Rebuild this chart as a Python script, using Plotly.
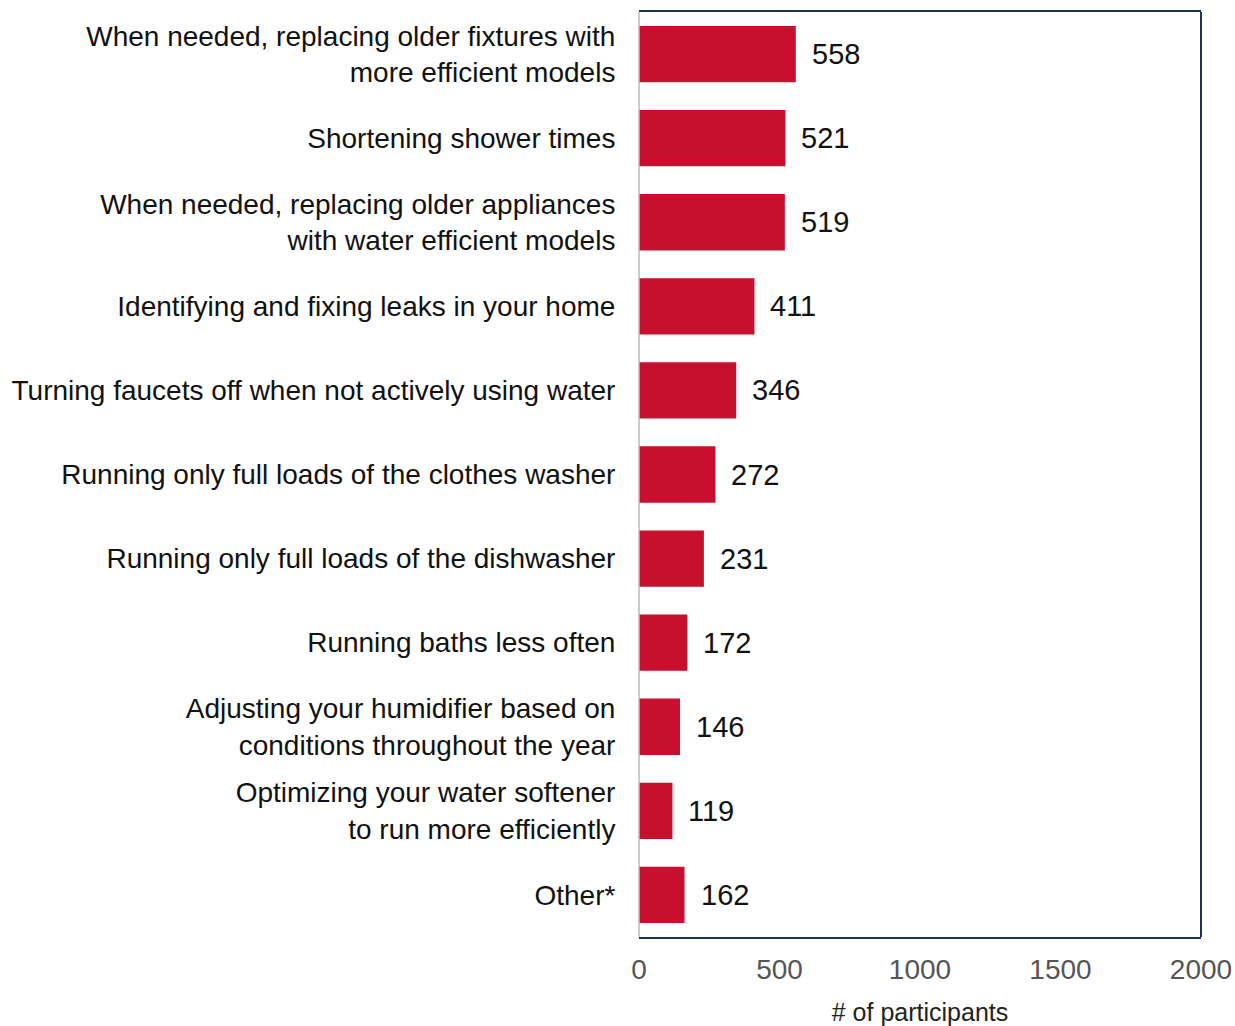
import plotly.graph_objects as go

categories = [
    "When needed, replacing older fixtures with<br>more efficient models",
    "Shortening shower times",
    "When needed, replacing older appliances<br>with water efficient models",
    "Identifying and fixing leaks in your home",
    "Turning faucets off when not actively using water",
    "Running only full loads of the clothes washer",
    "Running only full loads of the dishwasher",
    "Running baths less often",
    "Adjusting your humidifier based on<br>conditions throughout the year",
    "Optimizing your water softener<br>to run more efficiently",
    "Other*",
]
values = [558, 521, 519, 411, 346, 272, 231, 172, 146, 119, 162]
x_ticks = [0, 500, 1000, 1500, 2000]

RED = "#C8102E"
NAVY = "#1F3350"

fig = go.Figure()
fig.add_trace(go.Bar(
    y=categories, x=values, orientation="h",
    marker=dict(color=RED, line=dict(width=0)),
    hoverinfo="skip",
))

for c, v in zip(categories, values):
    fig.add_annotation(
        x=v, y=c, text=str(v), showarrow=False, xanchor="left", xshift=14,
        font=dict(family="Liberation Sans, Arial", size=29, color="#111111"),
    )

fig.update_layout(
    width=1235, height=1026,
    margin=dict(l=639, r=34, t=12, b=89, autoexpand=False),
    paper_bgcolor="white", plot_bgcolor="white",
    bargap=0.33,
    showlegend=False,
    xaxis=dict(
        range=[0, 2000], tickvals=x_ticks, ticktext=[str(t) for t in x_ticks],
        showgrid=False, zeroline=False, automargin=False,
        showline=True, mirror=True, linecolor=NAVY, linewidth=2,
        ticks="outside", ticklen=6, tickcolor="rgba(0,0,0,0)",
        tickfont=dict(family="Liberation Sans, Arial", size=28, color="#555555"),
        title=dict(text="# of participants", standoff=20,
                   font=dict(family="Liberation Sans, Arial", size=25, color="#222222")),
    ),
    yaxis=dict(
        autorange="reversed", showgrid=False, zeroline=False, showline=False,
        automargin=False,
        ticks="outside", ticklen=17, tickcolor="rgba(0,0,0,0)",
        tickfont=dict(family="Liberation Sans, Arial", size=28, color="#111111"),
    ),
    shapes=[
        dict(type="line", xref="paper", yref="paper", x0=1, x1=1, y0=0, y1=1,
             line=dict(color=NAVY, width=2)),
        dict(type="line", xref="paper", yref="paper", x0=0, x1=0, y0=0, y1=1,
             line=dict(color="#BBBBBB", width=1.5)),
    ],
)

fig.write_html("out.html")
